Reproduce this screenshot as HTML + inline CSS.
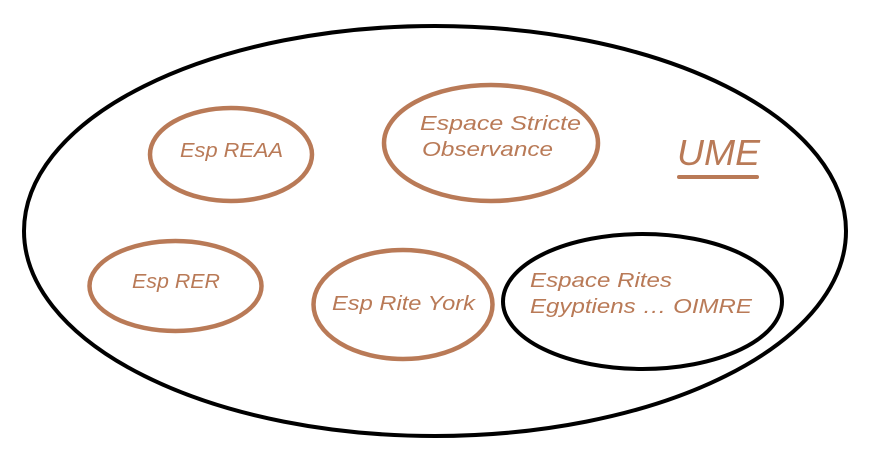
<!DOCTYPE html>
<html>
<head>
<meta charset="utf-8">
<style>
  html, body { margin: 0; padding: 0; background: #ffffff; }
  svg { display: block; }
  text { font-family: "Liberation Sans", sans-serif; font-style: italic; fill: #b97a57; }
</style>
</head>
<body>
<svg width="887" height="463" viewBox="0 0 887 463" xmlns="http://www.w3.org/2000/svg">
  <rect width="887" height="463" fill="#ffffff"/>
  <!-- Outer UME ellipse -->
  <ellipse cx="435" cy="231" rx="411" ry="205" fill="none" stroke="#000" stroke-width="4"/>

  <!-- Esp REAA -->
  <ellipse cx="231" cy="154.5" rx="81" ry="46.5" fill="none" stroke="#b97a57" stroke-width="4.5"/>
  <text x="180" y="157" font-size="20" textLength="103" lengthAdjust="spacingAndGlyphs">Esp REAA</text>

  <!-- Espace Stricte Observance -->
  <ellipse cx="491" cy="143" rx="107" ry="58" fill="none" stroke="#b97a57" stroke-width="4.5"/>
  <text x="420" y="130" font-size="20" textLength="161" lengthAdjust="spacingAndGlyphs">Espace Stricte</text>
  <text x="422" y="156" font-size="20" textLength="131" lengthAdjust="spacingAndGlyphs">Observance</text>

  <!-- UME -->
  <text x="677" y="165" font-size="36" textLength="83" lengthAdjust="spacingAndGlyphs">UME</text>
  <rect x="677" y="175" width="82" height="4" rx="2" fill="#b97a57"/>

  <!-- Esp RER -->
  <ellipse cx="175.5" cy="286" rx="86" ry="45" fill="none" stroke="#b97a57" stroke-width="4.5"/>
  <text x="132" y="288" font-size="20" textLength="88" lengthAdjust="spacingAndGlyphs">Esp RER</text>

  <!-- Esp Rite York -->
  <ellipse cx="403" cy="304.5" rx="89.5" ry="54.5" fill="none" stroke="#b97a57" stroke-width="4.5"/>
  <text x="332" y="310" font-size="20" textLength="143" lengthAdjust="spacingAndGlyphs">Esp Rite York</text>

  <!-- Espace Rites Egyptiens -->
  <ellipse cx="642.5" cy="301.5" rx="139.5" ry="67.5" fill="none" stroke="#000" stroke-width="4"/>
  <text x="530" y="287" font-size="20" textLength="142" lengthAdjust="spacingAndGlyphs">Espace Rites</text>
  <text x="530" y="313" font-size="20" textLength="222" lengthAdjust="spacingAndGlyphs">Egyptiens … OIMRE</text>
</svg>
</body>
</html>
